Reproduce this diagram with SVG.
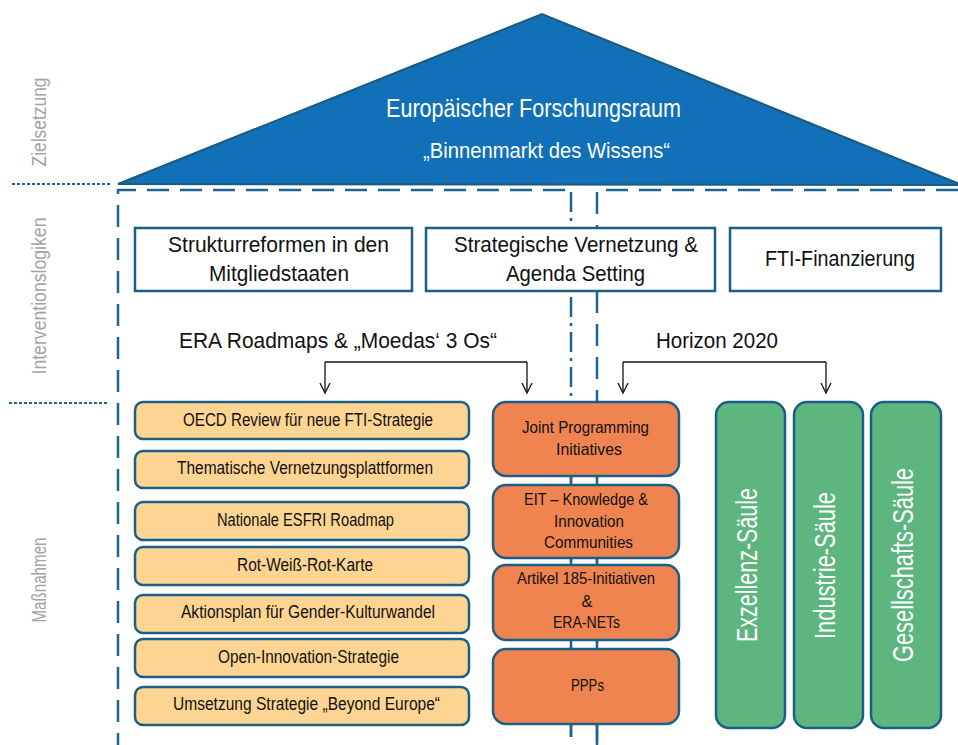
<svg xmlns="http://www.w3.org/2000/svg" width="958" height="745" viewBox="0 0 958 745">
<style>
.t{font-family:"Liberation Sans Narrow","Arial Narrow","Liberation Sans",Arial,sans-serif;}
.lab{fill:#a3a3a3;font-size:20px;text-anchor:middle;}
.top{fill:#ffffff;stroke:#1b5f88;stroke-width:2.5;}
.tt{fill:#111;font-size:22.5px;text-anchor:middle;}
.yb{fill:#fdd491;stroke:#1b5f88;stroke-width:2.5;}
.yt{fill:#111;font-size:17.5px;text-anchor:middle;}
.ob{fill:#ef8450;stroke:#1b5f88;stroke-width:2.5;}
.ot{fill:#111;font-size:16.5px;text-anchor:middle;}
.gb{fill:#5db67d;stroke:#1b5f88;stroke-width:2.5;}
.gt{fill:#fff;font-size:29px;text-anchor:middle;}
.dash{fill:none;stroke:#1d6490;stroke-width:2.5;stroke-dasharray:22 11;}
.dot{fill:none;stroke:#1d6490;stroke-width:2.2;stroke-dasharray:3 2;}
.arr{fill:none;stroke:#111;stroke-width:1.3;}
</style>
<defs>
<marker id="ah" markerUnits="userSpaceOnUse" viewBox="-12 -7 14 14" refX="0" refY="0" markerWidth="14" markerHeight="14" orient="auto">
<path d="M-10,-5 L0,0 L-10,5" fill="none" stroke="#111" stroke-width="1.3"/>
</marker>
</defs>

<g id="labels">
<text class="t lab" transform="translate(46,122) rotate(-90)" textLength="89" lengthAdjust="spacingAndGlyphs">Zielsetzung</text>
<text class="t lab" transform="translate(46,296) rotate(-90)" textLength="157" lengthAdjust="spacingAndGlyphs">Interventionslogiken</text>
<text class="t lab" transform="translate(46,580) rotate(-90)" textLength="85" lengthAdjust="spacingAndGlyphs">Maßnahmen</text>
<line class="dot" x1="12" y1="184" x2="111" y2="184"/>
<line class="dot" x1="9" y1="403" x2="108" y2="403"/>
</g>

<g id="frames">
<path class="dash" d="M565,190 H118 V745"/>
<path class="dash" d="M958,190 H597 V745"/>
<line x1="571" y1="192" x2="571" y2="737" fill="none" stroke="#1d6490" stroke-width="2.5" stroke-dasharray="20 6 3 6"/>
<line x1="571" y1="402" x2="571" y2="737" stroke="#1d6490" stroke-width="2.5"/>
<line x1="597" y1="402" x2="597" y2="745" stroke="#1d6490" stroke-width="2.5"/>
</g>

<g id="roof">
<polygon points="118,184 542,14 962,185" fill="#1170b7" stroke="#1b5a7e" stroke-width="2"/>
<text class="t" x="533.5" y="117" fill="#fff" font-size="26" text-anchor="middle" textLength="295" lengthAdjust="spacingAndGlyphs">Europäischer Forschungsraum</text>
<text class="t" x="546.5" y="158" fill="#fff" font-size="21.5" text-anchor="middle" textLength="247" lengthAdjust="spacingAndGlyphs">„Binnenmarkt des Wissens“</text>
</g>

<g id="box-struktur">
<rect class="top" x="135" y="228" width="277" height="63"/>
<text class="t tt" x="278.5" y="252" textLength="221" lengthAdjust="spacingAndGlyphs">Strukturreformen in den</text>
<text class="t tt" x="279" y="281" textLength="140" lengthAdjust="spacingAndGlyphs">Mitgliedstaaten</text>
</g>
<g id="box-vernetzung">
<rect class="top" x="426" y="228" width="289" height="63"/>
<text class="t tt" x="576" y="252" textLength="244" lengthAdjust="spacingAndGlyphs">Strategische Vernetzung &amp;</text>
<text class="t tt" x="575.5" y="281" textLength="139" lengthAdjust="spacingAndGlyphs">Agenda Setting</text>
</g>
<g id="box-fti">
<rect class="top" x="730" y="228" width="211" height="63"/>
<text class="t tt" x="840" y="266" textLength="150" lengthAdjust="spacingAndGlyphs">FTI-Finanzierung</text>
</g>

<g id="label-era">
<text class="t tt" x="338" y="348" textLength="318" lengthAdjust="spacingAndGlyphs">ERA Roadmaps &amp; „Moedas‘  3 Os“</text>
</g>
<g id="label-horizon">
<text class="t tt" x="717" y="348" textLength="122" lengthAdjust="spacingAndGlyphs">Horizon 2020</text>
</g>

<g id="connectors">
<path class="arr" d="M325,362 H527"/>
<path class="arr" d="M325,362 V393" marker-end="url(#ah)"/>
<path class="arr" d="M527,362 V393" marker-end="url(#ah)"/>
<path class="arr" d="M623,362 H826"/>
<path class="arr" d="M623,362 V393" marker-end="url(#ah)"/>
<path class="arr" d="M826,362 V393" marker-end="url(#ah)"/>
</g>

<g id="m1"><rect class="yb" x="135" y="402" width="334" height="37" rx="8"/><text class="t yt" x="308" y="426" textLength="250" lengthAdjust="spacingAndGlyphs">OECD Review für neue FTI-Strategie</text></g>
<g id="m2"><rect class="yb" x="135" y="451" width="334" height="37" rx="8"/><text class="t yt" x="305" y="474" textLength="256" lengthAdjust="spacingAndGlyphs">Thematische Vernetzungsplattformen</text></g>
<g id="m3"><rect class="yb" x="135" y="502" width="334" height="38" rx="8"/><text class="t yt" x="305.5" y="526" textLength="177" lengthAdjust="spacingAndGlyphs">Nationale ESFRI Roadmap</text></g>
<g id="m4"><rect class="yb" x="135" y="547" width="334" height="38" rx="8"/><text class="t yt" x="305" y="571" textLength="136" lengthAdjust="spacingAndGlyphs">Rot-Weiß-Rot-Karte</text></g>
<g id="m5"><rect class="yb" x="135" y="595" width="334" height="38" rx="8"/><text class="t yt" x="308" y="618" textLength="254" lengthAdjust="spacingAndGlyphs">Aktionsplan für Gender-Kulturwandel</text></g>
<g id="m6"><rect class="yb" x="135" y="639" width="334" height="38" rx="8"/><text class="t yt" x="308.5" y="663" textLength="181" lengthAdjust="spacingAndGlyphs">Open-Innovation-Strategie</text></g>
<g id="m7"><rect class="yb" x="135" y="687" width="334" height="38" rx="8"/><text class="t yt" x="306.5" y="710" textLength="267" lengthAdjust="spacingAndGlyphs">Umsetzung Strategie „Beyond Europe“</text></g>

<g id="o1"><rect class="ob" x="493" y="402" width="186" height="74" rx="13"/>
<text class="t ot" x="585.5" y="433" textLength="127" lengthAdjust="spacingAndGlyphs">Joint Programming</text>
<text class="t ot" x="589" y="455" textLength="66" lengthAdjust="spacingAndGlyphs">Initiatives</text></g>
<g id="o2"><rect class="ob" x="493" y="485" width="186" height="73" rx="13"/>
<text class="t ot" x="586" y="505" textLength="124" lengthAdjust="spacingAndGlyphs">EIT – Knowledge &amp;</text>
<text class="t ot" x="589" y="527" textLength="70" lengthAdjust="spacingAndGlyphs">Innovation</text>
<text class="t ot" x="588.5" y="548" textLength="89" lengthAdjust="spacingAndGlyphs">Communities</text></g>
<g id="o3"><rect class="ob" x="493" y="565" width="186" height="75" rx="13"/>
<text class="t ot" x="586" y="584" textLength="138" lengthAdjust="spacingAndGlyphs">Artikel 185-Initiativen</text>
<text class="t ot" x="587" y="607">&amp;</text>
<text class="t ot" x="586.5" y="628" textLength="67" lengthAdjust="spacingAndGlyphs">ERA-NETs</text></g>
<g id="o4"><rect class="ob" x="493" y="649" width="186" height="75" rx="13"/>
<text class="t ot" x="587.5" y="691" textLength="33" lengthAdjust="spacingAndGlyphs">PPPs</text></g>

<g id="p1"><rect class="gb" x="716" y="402" width="69" height="326" rx="13"/>
<text class="t gt" transform="translate(757,565) rotate(-90)" textLength="154" lengthAdjust="spacingAndGlyphs">Exzellenz-Säule</text></g>
<g id="p2"><rect class="gb" x="794" y="402" width="69" height="326" rx="13"/>
<text class="t gt" transform="translate(835,565.5) rotate(-90)" textLength="147" lengthAdjust="spacingAndGlyphs">Industrie-Säule</text></g>
<g id="p3"><rect class="gb" x="871" y="402" width="70" height="326" rx="13"/>
<text class="t gt" transform="translate(913,565) rotate(-90)" textLength="194" lengthAdjust="spacingAndGlyphs">Gesellschafts-Säule</text></g>
</svg>
